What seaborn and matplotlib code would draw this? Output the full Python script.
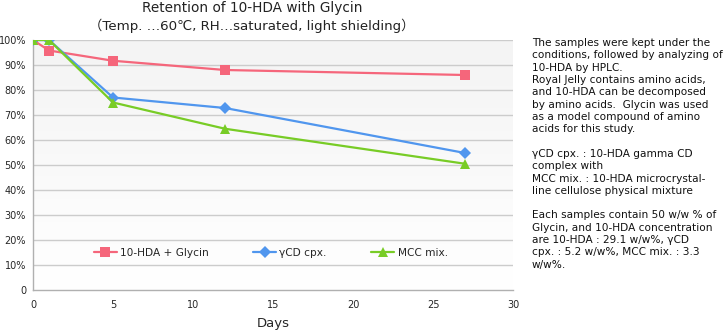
import numpy as np
import pandas as pd
import matplotlib
matplotlib.use("Agg")
import matplotlib.pyplot as plt
import seaborn as sns

days = [0, 1, 5, 12, 27]
series_names = ["10-HDA + Glycin", "γCD cpx.", "MCC mix."]
glycin = [100, 95.8, 91.7, 88.0, 86.0]
gcd = [100, 100, 77.0, 72.8, 54.8]
mcc = [100, 100, 75.0, 64.5, 50.5]
y_ticks = [0, 10, 20, 30, 40, 50, 60, 70, 80, 90, 100]
y_tick_labels = ["0", "10%", "20%", "30%", "40%", "50%", "60%", "70%", "80%", "90%", "100%"]
x_ticks = [0, 5, 10, 15, 20, 25, 30]

colors = ["#f5667b", "#5096ee", "#78cc26"]
markers = ["s", "D", "^"]

rows = []
for name, vals in zip(series_names, [glycin, gcd, mcc]):
    for d, v in zip(days, vals):
        rows.append({"Days": d, "Retention": v, "Series": name})
df = pd.DataFrame(rows)

sns.set_theme(style="white")
plt.rcParams["font.family"] = ["DejaVu Sans", "Noto Sans CJK JP"]

fig = plt.figure(figsize=(7.25, 3.3), dpi=100)
ax = fig.add_axes([33/725, 1-290/330, 480/725, 250/330])

# subtle background gradient
grad = np.linspace(0, 1, 256).reshape(-1, 1)
ax.imshow(grad, extent=[0, 30, 0, 100], aspect="auto", origin="lower",
          cmap=matplotlib.colors.LinearSegmentedColormap.from_list("g", ["#ffffff", "#f4f4f4"]),
          zorder=0)

for yt in y_ticks[1:]:
    ax.axhline(yt, color="#cccccc", lw=1.0, zorder=1)

sns.lineplot(data=df, x="Days", y="Retention", hue="Series", style="Series",
             hue_order=series_names, style_order=series_names,
             palette=colors, markers=markers, dashes=False, markersize=6.5,
             markeredgewidth=0, linewidth=1.6, ax=ax, zorder=3, legend=True)

ax.set_xlim(0, 30)
ax.set_ylim(0, 100)
ax.set_xticks(x_ticks)
ax.set_xticklabels([str(x) for x in x_ticks], fontsize=7)
ax.set_yticks(y_ticks)
ax.set_yticklabels(y_tick_labels, fontsize=7)
ax.tick_params(axis="both", length=3, color="#b0b0b0", pad=4)
ax.tick_params(axis="y", pad=2)
for s in ["top", "right"]:
    ax.spines[s].set_visible(False)
for s in ["left", "bottom"]:
    ax.spines[s].set_color("#b0b0b0")
    ax.spines[s].set_linewidth(1.0)
ax.set_ylabel("")
ax.set_xlabel("Days", fontsize=9.5, labelpad=5)

leg = ax.legend(loc="center", bbox_to_anchor=(0.495, 0.148), ncol=3, frameon=False,
                fontsize=7.6, handlelength=2.2, columnspacing=4.2, handletextpad=0.3,
                markerscale=1.0)

fig.text(252/725, 1-8/330, "Retention of 10-HDA with Glycin", ha="center", va="center",
         fontsize=9.8, color="#222222")
fig.text(252/725, 1-26/330, "（Temp. …60℃, RH…saturated, light shielding）", ha="center",
         va="center", fontsize=9.6, color="#222222")

note = ("The samples were kept under the\n"
        "conditions, followed by analyzing of\n"
        "10-HDA by HPLC.\n"
        "Royal Jelly contains amino acids,\n"
        "and 10-HDA can be decomposed\n"
        "by amino acids.  Glycin was used\n"
        "as a model compound of amino\n"
        "acids for this study.\n"
        "\n"
        "γCD cpx. : 10-HDA gamma CD\n"
        "complex with\n"
        "MCC mix. : 10-HDA microcrystal-\n"
        "line cellulose physical mixture\n"
        "\n"
        "Each samples contain 50 w/w % of\n"
        "Glycin, and 10-HDA concentration\n"
        "are 10-HDA : 29.1 w/w%, γCD\n"
        "cpx. : 5.2 w/w%, MCC mix. : 3.3\n"
        "w/w%.")
fig.text(532/725, 1-38/330, note, ha="left", va="top", fontsize=7.6,
         linespacing=1.29, color="#111111")

fig.savefig("out.png", dpi=100)
